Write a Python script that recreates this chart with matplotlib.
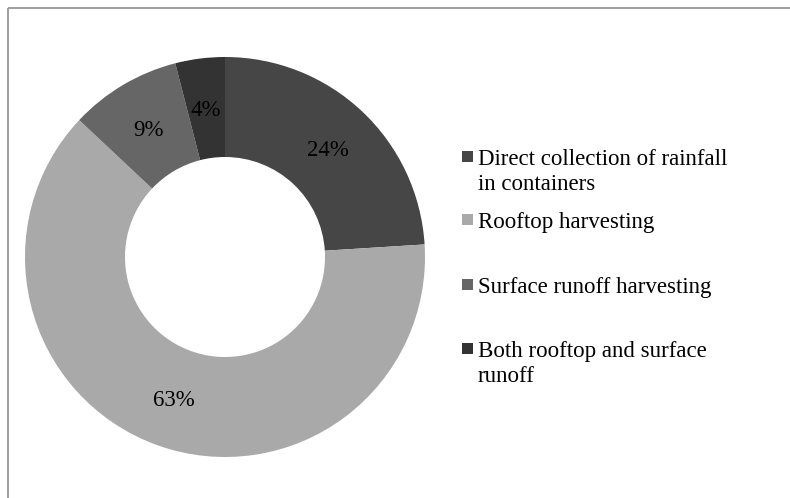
import matplotlib.pyplot as plt
from matplotlib.patches import Rectangle

# Share of rainwater harvesting methods
methods = [
    "Direct collection of rainfall\nin containers",
    "Rooftop harvesting",
    "Surface runoff harvesting",
    "Both rooftop and surface\nrunoff",
]
shares = [24, 63, 9, 4]
colors = ["#464646", "#a9a9a9", "#666666", "#333333"]

plt.rcParams["font.family"] = ["Liberation Serif", "DejaVu Serif"]

W, H = 790, 498
fig = plt.figure(figsize=(W / 100, H / 100), dpi=100)
ax = fig.add_axes([0, 0, 1, 1])
ax.set_xlim(0, W)
ax.set_ylim(0, H)
ax.set_aspect("equal")
ax.axis("off")

# Donut, clockwise from 12 o'clock
wedges, texts, pcts = ax.pie(
    shares,
    colors=colors,
    startangle=90,
    counterclock=False,
    radius=200,
    center=(225, H - 257),
    wedgeprops=dict(width=100, linewidth=0),
    autopct=lambda p: f"{p:.0f}%",
    pctdistance=0.75,
    textprops=dict(fontsize=16.5, color="black"),
)
for t in pcts:
    t.set_va("center_baseline")
ax.set_xlim(0, W)
ax.set_ylim(0, H)

# Chart border (cut off at right and bottom)
ax.plot([8, 8], [0, H - 8], color="#8c8c8c", lw=1.2, solid_capstyle="butt")
ax.plot([8, W], [H - 8, H - 8], color="#8c8c8c", lw=1.2, solid_capstyle="butt")

# Legend on the right, one text per line so baselines line up
baselines = [165, 228, 293, 357]
for label, col, base in zip(methods, colors, baselines):
    ax.add_patch(Rectangle((462, H - base + 3.5), 11, 11, facecolor=col, edgecolor="none"))
    for i, line in enumerate(label.split("\n")):
        ax.text(478, H - base - 25 * i, line, fontsize=16.5, va="baseline", ha="left")

fig.savefig("out.png", dpi=100)
